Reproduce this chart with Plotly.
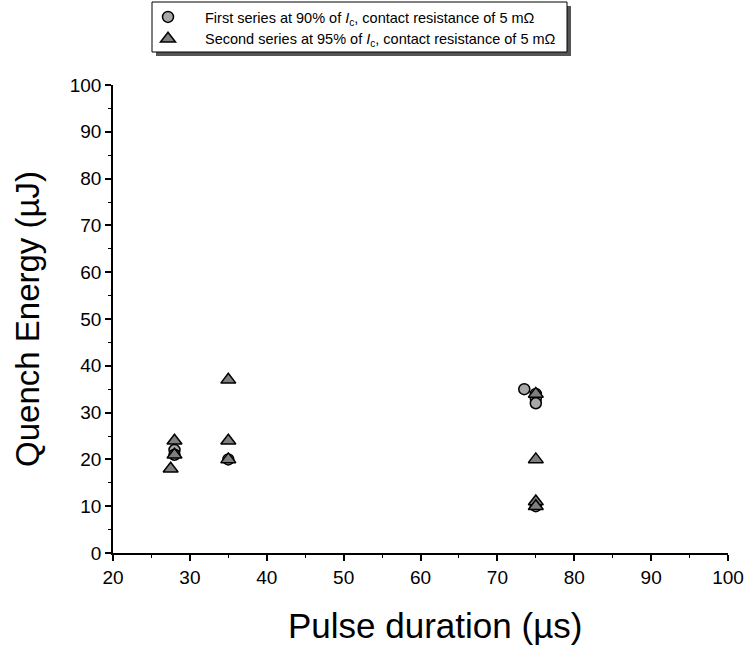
import plotly.graph_objects as go

# Series 1: 90% of Ic, 5 mOhm (circles)
s1_duration = [28, 28, 35, 73.5, 75, 75, 75, 75]
s1_energy = [22, 21, 20, 35, 34, 33, 32, 10]

# Series 2: 95% of Ic, 5 mOhm (triangles)
s2_duration = [27.5, 28, 28, 35, 35, 35, 75, 75, 75, 75]
s2_energy = [18, 24, 21, 37, 24, 20, 34, 20, 11, 10]

x_ticks = [20, 30, 40, 50, 60, 70, 80, 90, 100]
y_ticks = [0, 10, 20, 30, 40, 50, 60, 70, 80, 90, 100]

FONT = "Arial, Liberation Sans, sans-serif"

fig = go.Figure()
fig.add_trace(go.Scatter(
    x=s1_duration, y=s1_energy, mode="markers",
    name="First series at 90% of <i>I</i><sub>c</sub>, contact resistance of 5 m\u03a9",
    marker=dict(symbol="circle", size=11, color="#a8a8a8",
                line=dict(color="black", width=1.5)),
))
fig.add_trace(go.Scatter(
    x=s2_duration, y=s2_energy, mode="markers",
    name="Second series at 95% of <i>I</i><sub>c</sub>, contact resistance of 5 m\u03a9",
    marker=dict(symbol="triangle-up", size=13, color="#7f7f7f",
                line=dict(color="black", width=1.5)),
))

L, R, T, B = 113, 28, 85, 99
W, H = 756, 652
pw, ph = W - L - R, H - T - B


def px(x):
    return (x - L) / pw


def py(y):
    return (H - B - y) / ph


shapes = [
    # legend shadow
    dict(type="rect", xref="paper", yref="paper",
         x0=px(156), x1=px(571), y0=py(56), y1=py(6),
         fillcolor="#555555", line=dict(width=0), layer="above"),
    # legend box
    dict(type="rect", xref="paper", yref="paper",
         x0=px(152), x1=px(567), y0=py(52), y1=py(2),
         fillcolor="white", line=dict(color="black", width=1), layer="above"),
]

axis_common = dict(
    showline=True, linecolor="black", linewidth=1.5, mirror=False,
    ticks="outside", ticklen=6, tickwidth=1.5, tickcolor="black",
    showgrid=False, zeroline=False,
    tickfont=dict(family=FONT, size=19, color="black"),
    minor=dict(ticks="outside", ticklen=3, tickwidth=1, tickcolor="black", dtick=5),
)

fig.update_layout(
    width=W, height=H,
    margin=dict(l=L, r=R, t=T, b=B, autoexpand=False),
    plot_bgcolor="white", paper_bgcolor="white",
    font=dict(family=FONT, color="black"),
    xaxis=dict(range=[20, 100], tickvals=x_ticks, **axis_common),
    yaxis=dict(range=[0, 100], tickvals=y_ticks,
               title=dict(text="Quench Energy (\u00b5J)", font=dict(family=FONT, size=33), standoff=20),
               **axis_common),
    annotations=[dict(text="Pulse duration (\u00b5s)", xref="paper", yref="paper",
                      x=px(435), y=py(625), xanchor="center", yanchor="middle",
                      showarrow=False, font=dict(family=FONT, size=35, color="black"))],
    shapes=shapes,
    showlegend=True,
    legend=dict(x=px(131), y=py(1), xanchor="left", yanchor="top",
                bgcolor="rgba(0,0,0,0)", borderwidth=0,
                font=dict(family=FONT, size=14.5, color="black"),
                tracegroupgap=0, itemwidth=64),
)

fig.write_html("out.html", config={"displayModeBar": False},
               post_script="document.body.style.margin='0px';")
